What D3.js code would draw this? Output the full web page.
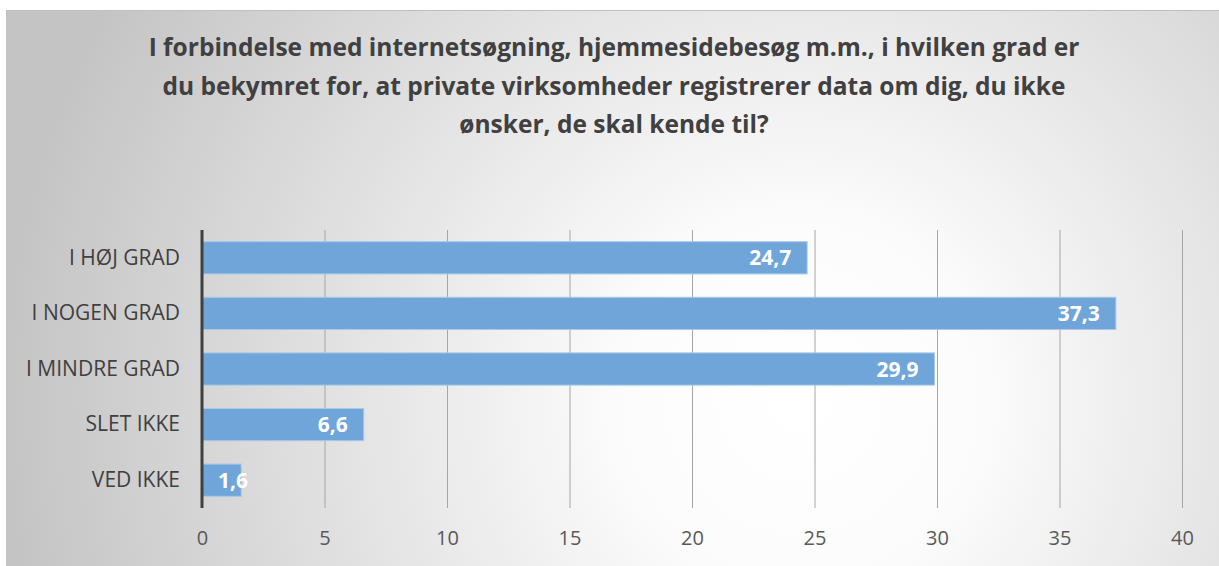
<!DOCTYPE html>
<html>
<head>
<meta charset="utf-8">
<script src="https://cdnjs.cloudflare.com/ajax/libs/d3/7.8.5/d3.min.js"></script>
<style>
  html, body { margin: 0; padding: 0; background: #fff; }
  svg { display: block; font-family: "Open Sans", "Noto Sans", sans-serif; }
</style>
</head>
<body>
<div id="graph-container"></div>
<script>
// Chart data
var categories = ["I HØJ GRAD", "I NOGEN GRAD", "I MINDRE GRAD", "SLET IKKE", "VED IKKE"];
var values = [24.7, 37.3, 29.9, 6.6, 1.6];
var xTicks = [0, 5, 10, 15, 20, 25, 30, 35, 40];
var titleLines = [
  "I forbindelse med internetsøgning, hjemmesidebesøg m.m., i hvilken grad er",
  "du bekymret for, at private virksomheder registrerer data om dig, du ikke",
  "ønsker, de skal kende til?"
];

var svgWidth = 1219;
var svgHeight = 566;

var svg = d3.select("#graph-container")
  .append("svg")
  .attr("width", svgWidth)
  .attr("height", svgHeight);

// Background gradient (white centre, grey edges)
var defs = svg.append("defs");
var grad = defs.append("radialGradient")
  .attr("id", "bg")
  .attr("gradientUnits", "userSpaceOnUse")
  .attr("cx", 800).attr("cy", 400).attr("r", 800);
grad.append("stop").attr("offset", "0%").attr("stop-color", "#ffffff");
grad.append("stop").attr("offset", "22%").attr("stop-color", "#fcfcfc");
grad.append("stop").attr("offset", "100%").attr("stop-color", "#c4c4c4");

svg.append("rect")
  .attr("x", 6.5).attr("y", 10.5)
  .attr("width", svgWidth - 6).attr("height", svgHeight - 10)
  .attr("fill", "url(#bg)")
  .attr("stroke", "#c0c0c0");

// Title
svg.append("g")
  .selectAll("text")
  .data(titleLines)
  .join("text")
  .attr("x", 614)
  .attr("y", function (d, i) { return 56 + i * 38.5; })
  .attr("text-anchor", "middle")
  .style("font-size", "24.5px")
  .style("font-weight", "bold")
  .style("fill", "#404040")
  .text(function (d) { return d; });

// Chart area
var margin = { top: 230, left: 202 };
var chartWidth = 980;
var chartHeight = 278;

var chart = svg.append("g")
  .attr("transform", "translate(" + margin.left + "," + margin.top + ")");

var xScale = d3.scaleLinear().domain([0, 40]).range([0, chartWidth]);
var yScale = d3.scaleBand().domain(categories).range([0, chartHeight])
  .paddingInner(0.42).paddingOuter(0.21);

// Gridlines
chart.append("g")
  .selectAll("line")
  .data(xTicks.slice(1))
  .join("line")
  .attr("x1", function (d) { return xScale(d) + 0.5; })
  .attr("x2", function (d) { return xScale(d) + 0.5; })
  .attr("y1", 0)
  .attr("y2", chartHeight)
  .attr("stroke", "#a6a6a6")
  .attr("stroke-width", 1);

// X axis labels
var xAxis = d3.axisBottom(xScale)
  .tickValues(xTicks)
  .tickSize(0)
  .tickPadding(23);
var xg = chart.append("g")
  .attr("transform", "translate(0," + chartHeight + ")")
  .call(xAxis);
xg.select(".domain").remove();
xg.selectAll("text")
  .style("font-size", "20px")
  .style("font-family", "'Open Sans', sans-serif")
  .style("fill", "#595959");

// Bars
chart.append("g")
  .selectAll("rect")
  .data(values)
  .join("rect")
  .attr("x", xScale(0))
  .attr("y", function (d, i) { return yScale(categories[i]); })
  .attr("width", function (d) { return xScale(d) - xScale(0); })
  .attr("height", yScale.bandwidth())
  .attr("fill", "#6fa5d9")
  .attr("stroke", "#a9c9ea")
  .attr("stroke-width", 1);

// Value labels
chart.append("g")
  .selectAll("text")
  .data(values)
  .join("text")
  .attr("y", function (d, i) { return yScale(categories[i]) + yScale.bandwidth() / 2; })
  .attr("dy", "0.36em")
  .attr("text-anchor", "end")
  .style("font-size", "21px")
  .style("font-weight", "bold")
  .style("fill", "#ffffff")
  .text(function (d) { return String(d).replace(".", ","); })
  .attr("x", function (d) {
    var w = this.getComputedTextLength();
    return Math.max(xScale(d) - 16, xScale(0) + 16 + w);
  });

// Category labels
var yAxis = d3.axisLeft(yScale).tickSize(0).tickPadding(22);
var yg = chart.append("g").call(yAxis);
yg.select(".domain").remove();
yg.selectAll("text")
  .style("font-size", "21px")
  .style("font-family", "'Open Sans', sans-serif")
  .style("fill", "#404040");

// Vertical axis line
chart.append("line")
  .attr("x1", 0).attr("x2", 0)
  .attr("y1", 0).attr("y2", chartHeight)
  .attr("stroke", "#404040")
  .attr("stroke-width", 3);
</script>
</body>
</html>
